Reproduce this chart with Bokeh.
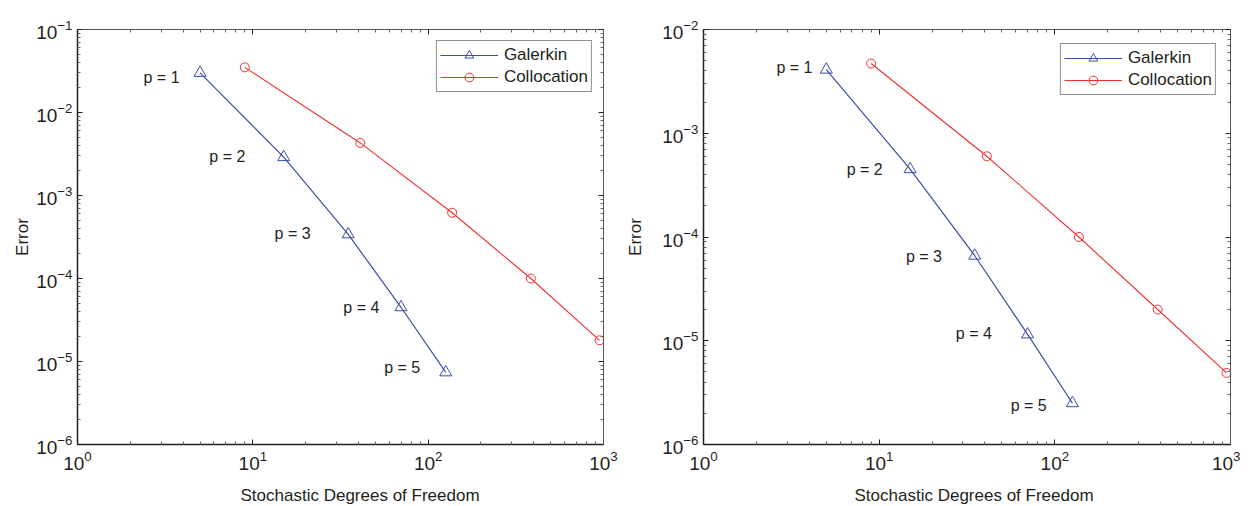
from bokeh.plotting import figure
from bokeh.layouts import row
from bokeh.models import (Range1d, LogAxis, FixedTicker, Legend, LegendItem,
                          Title, CustomJSTickFormatter, ColumnDataSource)
from bokeh.core.properties import value
from bokeh.embed import file_html
from bokeh.resources import INLINE

# ---------------- data ----------------
galerkin_dof = [5, 15, 35, 70, 126]
collocation_dof = [9, 41, 137, 385, 950]
p_labels = ["p = 1", "p = 2", "p = 3", "p = 4", "p = 5"]

# left panel
galerkin_err_a = [3.0e-2, 2.9e-3, 3.4e-4, 4.5e-5, 7.4e-6]
collocation_err_a = [3.5e-2, 4.3e-3, 6.2e-4, 1.0e-4, 1.8e-5]
label_x_a = [2.38, 5.65, 13.3, 32.8, 56.1]
label_y_a = [2.64e-2, 2.95e-3, 3.48e-4, 4.48e-5, 8.47e-6]

# right panel
galerkin_err_b = [4.1e-3, 4.5e-4, 6.6e-5, 1.15e-5, 2.5e-6]
collocation_err_b = [4.7e-3, 6.0e-4, 1.0e-4, 2.0e-5, 4.9e-6]
label_x_b = [2.6, 6.53, 14.2, 27.3, 56.1]
label_y_b = [4.3e-3, 4.47e-4, 6.5e-5, 1.17e-5, 2.38e-6]

x_label = "Stochastic Degrees of Freedom"
y_label = "Error"

# ---------------- style ----------------
FONT = "Liberation Sans"
TXT = "#231f20"
BLUE = "#3a4fa6"
RED = "#ee3030"


def decade_ticks(e0, e1):
    major = [10.0 ** e for e in range(e0, e1 + 1)]
    minor = [m * 10.0 ** e for e in range(e0, e1) for m in range(2, 10)]
    return FixedTicker(ticks=major, minor_ticks=minor)


def style_axis(ax, strong):
    ax.axis_line_color = TXT if strong else "#555555"
    ax.axis_line_width = 1.5 if strong else 1
    ax.major_tick_in = 5
    ax.major_tick_out = 0
    ax.minor_tick_in = 3
    ax.minor_tick_out = 0
    ax.major_tick_line_color = TXT
    ax.minor_tick_line_color = "#666666"
    ax.major_label_text_font = FONT
    ax.major_label_text_font_size = "19px"
    ax.major_label_text_color = TXT


def make_panel(ymin_e, ymax_e, g_err, c_err, lx, ly, border_left, border_right,
               frame_w, legend_margin, xlabel_offset, ylabel_standoff):
    p = figure(x_axis_type="log", y_axis_type="log",
               x_range=Range1d(1, 1000), y_range=Range1d(10.0 ** ymin_e, 10.0 ** ymax_e),
               frame_width=frame_w, frame_height=415,
               min_border_left=border_left, min_border_right=border_right,
               min_border_top=29, min_border_bottom=54,
               output_backend="svg", toolbar_location=None)
    p.grid.visible = False
    p.outline_line_color = None
    p.background_fill_color = "white"

    p.xaxis.ticker = decade_ticks(0, 3)
    p.yaxis.ticker = decade_ticks(ymin_e, ymax_e)
    for ax in p.xaxis + p.yaxis:
        style_axis(ax, True)
    p.xaxis.major_label_standoff = 6
    p.yaxis.major_label_standoff = 5

    p.yaxis.axis_label = y_label
    p.yaxis.axis_label_text_font = FONT
    p.yaxis.axis_label_text_font_size = "17px"
    p.yaxis.axis_label_text_font_style = "normal"
    p.yaxis.axis_label_text_color = TXT
    p.yaxis.axis_label_standoff = ylabel_standoff

    blank = CustomJSTickFormatter(code="return ''")
    top = LogAxis(ticker=decade_ticks(0, 3), formatter=blank)
    right = LogAxis(ticker=decade_ticks(ymin_e, ymax_e), formatter=blank)
    for ax in (top, right):
        style_axis(ax, False)
        ax.major_label_standoff = 0
        ax.major_label_text_font_size = "1px"
    p.add_layout(top, "above")
    p.add_layout(right, "right")

    xt_title = Title(text=x_label, align="left", offset=xlabel_offset,
                     text_font=FONT, text_font_size="17px", text_font_style="normal",
                     text_color=TXT, standoff=22)
    p.add_layout(xt_title, "below")

    gsrc = ColumnDataSource(dict(x=galerkin_dof, y=g_err))
    csrc = ColumnDataSource(dict(x=collocation_dof, y=c_err))
    gl = p.line("x", "y", source=gsrc, line_color=BLUE, line_width=1.2)
    gm = p.scatter("x", "y", source=gsrc, marker="triangle", size=12,
                   line_color=BLUE, fill_color=None, line_width=1)
    cl = p.line("x", "y", source=csrc, line_color=RED, line_width=1.1)
    cm = p.scatter("x", "y", source=csrc, marker="circle", size=9,
                   line_color=RED, fill_color=None, line_width=1)

    lsrc = ColumnDataSource(dict(x=lx, y=ly, t=p_labels))
    p.text("x", "y", text="t", source=lsrc, text_font=value(FONT),
           text_font_size=value("16px"), text_color=TXT,
           text_align="left", text_baseline="middle")

    legend = Legend(items=[LegendItem(label="Galerkin", renderers=[gl, gm]),
                           LegendItem(label="Collocation", renderers=[cl, cm])],
                    location="top_right", margin=legend_margin, padding=3, spacing=-1,
                    glyph_width=58, glyph_height=22, label_height=20, label_standoff=6,
                    label_text_font=FONT, label_text_font_size="17px",
                    label_text_color=TXT,
                    border_line_color=TXT, border_line_width=1.5,
                    background_fill_color="white", background_fill_alpha=1.0)
    p.add_layout(legend)
    return p


left = make_panel(-6, -1, galerkin_err_a, collocation_err_a, label_x_a, label_y_a,
                  border_left=77, border_right=17, frame_w=526, legend_margin=11,
                  xlabel_offset=163, ylabel_standoff=1)
right = make_panel(-6, -2, galerkin_err_b, collocation_err_b, label_x_b, label_y_b,
                   border_left=83, border_right=10, frame_w=527, legend_margin=14,
                   xlabel_offset=151, ylabel_standoff=14)

layout = row(left, right)
open("out.html", "w").write(file_html(layout, INLINE))
